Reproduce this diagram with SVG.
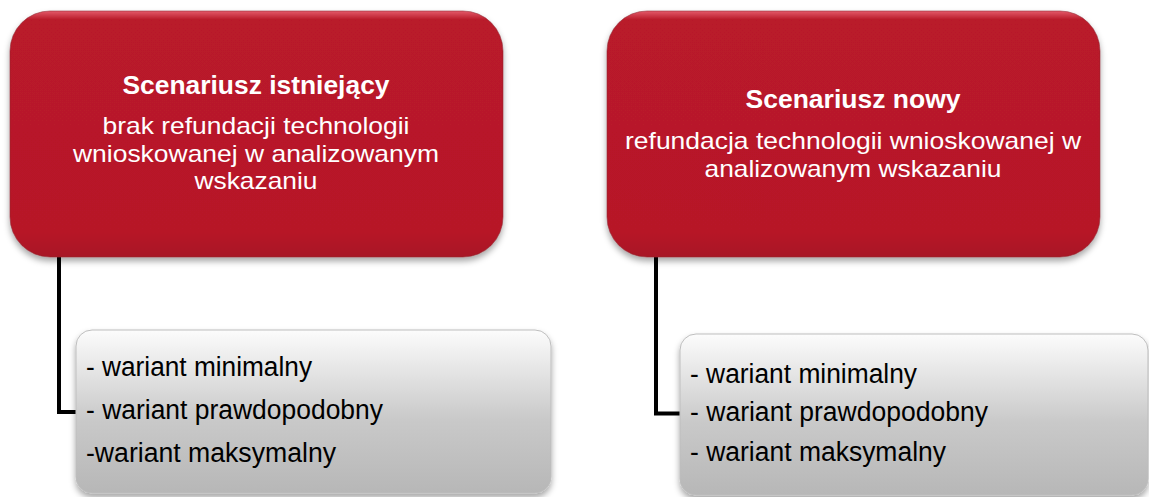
<svg xmlns="http://www.w3.org/2000/svg" width="1149" height="497" viewBox="0 0 1149 497">
<defs>
<linearGradient id="redG" x1="0" y1="0" x2="0" y2="1">
<stop offset="0" stop-color="#E35A69"/>
<stop offset="0.035" stop-color="#B91A2A"/>
<stop offset="0.9" stop-color="#B71828"/>
<stop offset="1" stop-color="#A81625"/>
</linearGradient>
<linearGradient id="grayG" x1="0" y1="0" x2="0" y2="1">
<stop offset="0" stop-color="#FCFCFC"/>
<stop offset="0.55" stop-color="#C9C9C9"/>
<stop offset="1" stop-color="#B7B7B7"/>
</linearGradient>
<filter id="sh" x="-5%" y="-5%" width="110%" height="120%">
<feDropShadow dx="0" dy="4" stdDeviation="3" flood-color="#000" flood-opacity="0.35"/>
</filter>
</defs>
<style>
.red{fill:url(#redG);stroke:#8E2A33;stroke-opacity:0.55;stroke-width:1;filter:url(#sh)}
.gray{fill:url(#grayG);stroke:#BDBDBD;stroke-width:1;filter:url(#sh)}
.title{font-family:"Liberation Sans",Arial,sans-serif;font-weight:bold;font-size:26px;fill:#fff;text-anchor:middle}
.body{font-family:"Liberation Sans",Arial,sans-serif;font-size:24px;fill:#fff;text-anchor:middle}
.item{font-family:"Liberation Sans",Arial,sans-serif;font-size:27px;fill:#000}
.conn{fill:none;stroke:#000;stroke-width:4;stroke-linejoin:miter}
</style>
<g id="connectors">
<path class="conn" d="M59,257 V412 H78"/>
<path class="conn" d="M656,257 V413.5 H682"/>
</g>
<g id="node-existing">
<rect class="red" x="10" y="11" width="493" height="246" rx="40" ry="40"/>
<text class="title" x="256" y="94" textLength="267" lengthAdjust="spacingAndGlyphs">Scenariusz istniejący</text>
<text class="body" x="256" y="134" textLength="307" lengthAdjust="spacingAndGlyphs">brak refundacji technologii</text>
<text class="body" x="256" y="161.5" textLength="366" lengthAdjust="spacingAndGlyphs">wnioskowanej w analizowanym</text>
<text class="body" x="256" y="189" textLength="123" lengthAdjust="spacingAndGlyphs">wskazaniu</text>
</g>
<g id="node-new">
<rect class="red" x="607" y="11" width="493" height="246" rx="40" ry="40"/>
<text class="title" x="853" y="108" textLength="215" lengthAdjust="spacingAndGlyphs">Scenariusz nowy</text>
<text class="body" x="853" y="149" textLength="456" lengthAdjust="spacingAndGlyphs">refundacja technologii wnioskowanej w</text>
<text class="body" x="853" y="176.7" textLength="297" lengthAdjust="spacingAndGlyphs">analizowanym wskazaniu</text>
</g>
<g id="variants-existing">
<rect class="gray" x="76" y="330" width="475" height="163" rx="16" ry="16"/>
<text class="item" x="86" y="376" textLength="226" lengthAdjust="spacingAndGlyphs">- wariant minimalny</text>
<text class="item" x="86" y="418.5" textLength="297" lengthAdjust="spacingAndGlyphs">- wariant prawdopodobny</text>
<text class="item" x="86" y="461.5" textLength="250" lengthAdjust="spacingAndGlyphs">-wariant maksymalny</text>
</g>
<g id="variants-new">
<rect class="gray" x="680" y="334" width="468" height="161" rx="16" ry="16"/>
<text class="item" x="690" y="383" textLength="227" lengthAdjust="spacingAndGlyphs">- wariant minimalny</text>
<text class="item" x="690" y="420.5" textLength="298" lengthAdjust="spacingAndGlyphs">- wariant prawdopodobny</text>
<text class="item" x="690" y="460.5" textLength="256" lengthAdjust="spacingAndGlyphs">- wariant maksymalny</text>
</g>
</svg>
